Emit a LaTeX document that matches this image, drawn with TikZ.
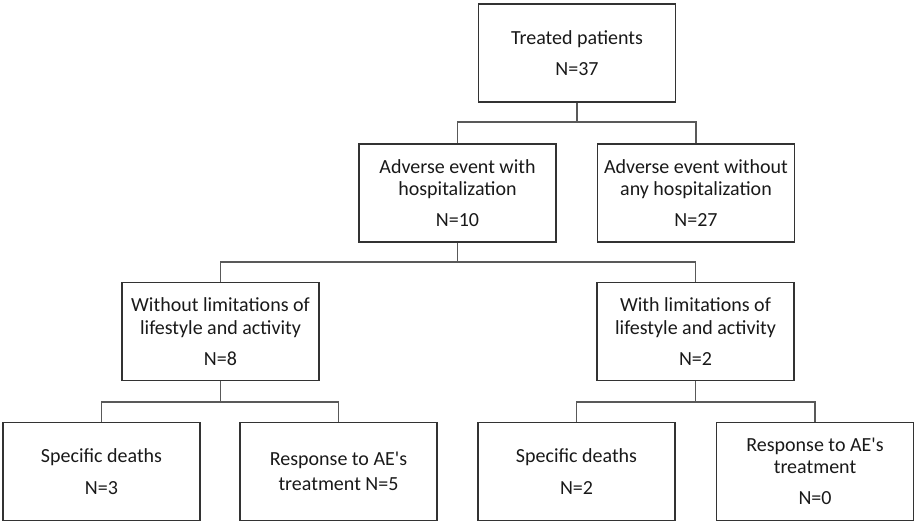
\documentclass[tikz,border=0pt]{standalone}
\usepackage{fontspec}
\setmainfont{Carlito}[Ligatures=TeXOff]
\begin{document}
\begin{tikzpicture}[x=1pt,y=-1pt,
  box/.style={draw=black!80, line width=1.8pt, minimum width=197pt, minimum height=98pt,
    align=center, inner sep=0pt, font=\fontsize{20}{22.5}\selectfont, text=black!90},
  link/.style={draw=black!65, line width=1.2pt}]
\useasboundingbox (0,0) rectangle (914,523);
\node[box] (top) at (577,53) {Treated patients\\[8.5pt]N=37};
\node[box] (b2) at (457.5,193) {Adverse event with\\hospitalization\\[8.5pt]N=10};
\node[box] (b3) at (696,193) {Adverse event without\\any hospitalization\\[8.5pt]N=27};
\node[box] (b4) at (220.5,331.5) {Without limitations of\\lifestyle and activity\\[8.5pt]N=8};
\node[box] (b5) at (695.5,331.5) {With limitations of\\lifestyle and activity\\[8.5pt]N=2};
\node[box] (b6) at (101.5,471.5) {Specific deaths\\[10pt]N=3};
\node[box] (b7) at (338.5,471.5) {Response to AE's\\[2.5pt]treatment N=5};
\node[box] (b8) at (576.5,471.5) {Specific deaths\\[10pt]N=2};
\node[box] (b9) at (815,471.5) {Response to AE's\\treatment\\[8.5pt]N=0};
\coordinate (j1) at (577,122);
\coordinate (j2) at (457.5,262);
\coordinate (j3) at (220.5,402);
\coordinate (j4) at (695.5,402);
\draw[link] (top.south) -- (j1);
\draw[link] (b2.north) -- (b2.north |- j1) -- (b3.north |- j1) -- (b3.north);
\draw[link] (b2.south) -- (j2);
\draw[link] (b4.north) -- (b4.north |- j2) -- (b5.north |- j2) -- (b5.north);
\draw[link] (b4.south) -- (j3);
\draw[link] (b6.north) -- (b6.north |- j3) -- (b7.north |- j3) -- (b7.north);
\draw[link] (b5.south) -- (j4);
\draw[link] (b8.north) -- (b8.north |- j4) -- (b9.north |- j4) -- (b9.north);
\end{tikzpicture}
\end{document}
